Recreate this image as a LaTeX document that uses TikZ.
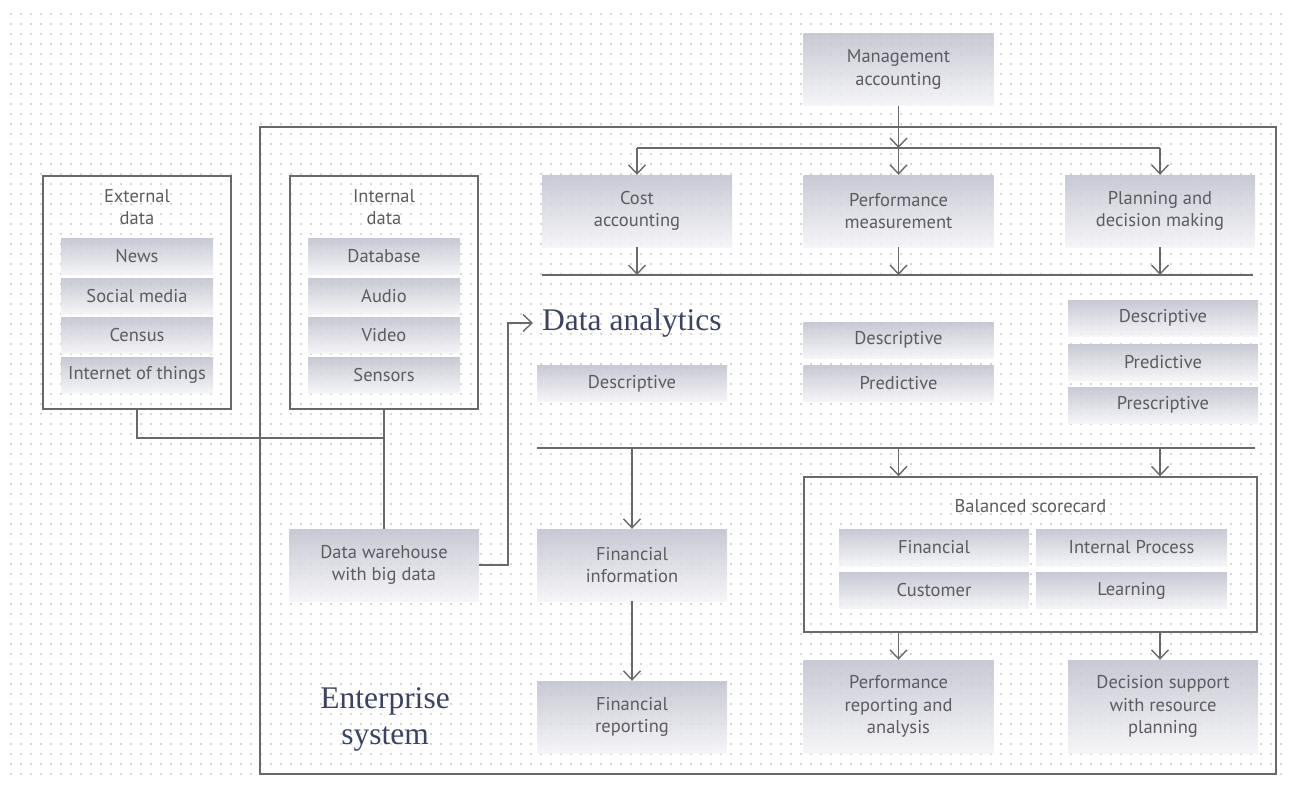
\documentclass[tikz,border=0pt]{standalone}
\usepackage{fontspec}
\setmainfont{PT Sans}
\newfontfamily\headfont{Liberation Serif}
\usetikzlibrary{arrows.meta}
\definecolor{linegray}{RGB}{105,105,108}
\definecolor{txtgray}{RGB}{92,92,96}
\definecolor{headblue}{RGB}{59,66,99}
\definecolor{boxtop}{RGB}{190,192,205}
\definecolor{boxbot}{RGB}{244,244,247}
\definecolor{dotgray}{RGB}{214,214,216}

\begin{document}
\begin{tikzpicture}[x=1pt, y=-1pt,
  every node/.style={font=\fontsize{18.5}{22.5}\selectfont, text=txtgray, align=center, inner sep=0pt},
  box/.style={top color=boxtop, bottom color=boxbot, fill opacity=0.85, text opacity=1,
    minimum width=190pt, minimum height=72pt},
  slim/.style={box, minimum height=36pt},
  frame/.style={draw=linegray, line width=1.4pt},
  conn/.style={draw=linegray, line width=1.4pt},
  arr/.style={conn, -{Straight Barb[length=9pt, width=17pt]}},
  head/.style={font=\headfont\fontsize{31.5}{36}\selectfont, text=headblue},
  dots/.style={draw=dotgray, line width=2pt, dash pattern=on 2pt off 8pt}]
\useasboundingbox (0,0) rectangle (1291,785);
\foreach \y in {14,24,...,774}
  \draw[dots] (10,\y) -- (1285,\y);

% frames
\node[frame, minimum width=1016pt, minimum height=647pt] (ent) at (768,450.5) {};
\node[frame, minimum width=188pt, minimum height=233pt] (ext) at (137,292.5) {};
\node[frame, minimum width=188pt, minimum height=233pt] (int) at (384,292.5) {};
\node[frame, minimum width=453pt, minimum height=155pt] (bsc) at (1030.5,554.5) {};

% data sources
\node at (137,207) {External\\data};
\node[slim, minimum width=152pt] (news) at (137,256.5) {News};
\node[slim, minimum width=152pt] (social) at (137,296) {Social media};
\node[slim, minimum width=152pt] (census) at (137,335.5) {Census};
\node[slim, minimum width=152pt] (iot) at (137,375) {Internet of things};
\node at (384,207) {Internal\\data};
\node[slim, minimum width=152pt] (database) at (384,256.5) {Database};
\node[slim, minimum width=152pt] (audio) at (384,296) {Audio};
\node[slim, minimum width=152pt] (video) at (384,335.5) {Video};
\node[slim, minimum width=152pt] (sensors) at (384,375) {Sensors};
\node[box] (dw) at (384,565) {Data warehouse\\with big data};

% management accounting
\node[box] (mgmt) at (898.5,69.5) {Management\\accounting};
\node[box] (cost) at (637,211) {Cost\\accounting};
\node[box] (perf) at (898.5,211) {Performance\\measurement};
\node[box] (plan) at (1160,211) {Planning and\\decision making};

% data analytics
\node[head, anchor=west] (da) at (533,323) {\hspace{9pt}Data analytics};
\node[slim] (desca) at (632,383.5) {Descriptive};
\node[slim] (descb) at (898.5,340) {Descriptive};
\node[slim] (predb) at (898.5,383.5) {Predictive};
\node[slim] (descc) at (1163,318) {Descriptive};
\node[slim] (predc) at (1163,362) {Predictive};
\node[slim] (presc) at (1163,405) {Prescriptive};

% outputs
\node[box] (fininfo) at (632,565) {Financial\\information};
\node[box] (finrep) at (632,717) {Financial\\reporting};
\node (bsctitle) at (1030.5,506) {Balanced scorecard};
\node[slim, minimum height=37pt] (fin) at (934,547.5) {Financial};
\node[slim, minimum height=37pt, minimum width=191pt] (intp) at (1131.5,547.5) {Internal Process};
\node[slim, minimum height=36pt] (cust) at (934,590.5) {Customer};
\node[slim, minimum height=36pt, minimum width=191pt] (learn) at (1131.5,590.5) {Learning};
\node[box, minimum height=93pt] (perfrep) at (898.5,706.5) {Performance\\reporting and\\analysis};
\node[box, minimum height=93pt] (decis) at (1163,706.5) {Decision support\\with resource\\planning};
\node[head] (es) at (385,719) {Enterprise\\system};

% connectors
\coordinate (jt) at (898.5,148);
\coordinate (jtl) at (637,148);
\coordinate (jtr) at (1160,148);
\coordinate (ml) at (542,275);
\coordinate (mr) at (1253,275);
\coordinate (bl) at (537,448);
\coordinate (br) at (1255,448);
\coordinate (jw) at (384,438);
\coordinate (jd) at (508,565);
\draw[conn] (jtl) -- (jtr);
\draw[arr] (mgmt) -- (jt);
\draw[arr] (jtl) -- (cost);
\draw[arr] (jt) -- (perf);
\draw[arr] (jtr) -- (plan);
\draw[conn] (ml) -- (mr);
\draw[arr] (cost) -- (cost |- ml);
\draw[arr] (perf) -- (perf |- ml);
\draw[arr] (plan) -- (plan |- ml);
\draw[conn] (bl) -- (br);
\draw[arr] (fininfo |- bl) -- (fininfo);
\draw[arr] (perfrep |- bl) -- (perfrep |- bsc.north);
\draw[arr] (plan |- bl) -- (plan |- bsc.north);
\draw[arr] (fininfo) -- (finrep);
\draw[arr] (perfrep |- bsc.south) -- (perfrep);
\draw[arr] (plan |- bsc.south) -- (plan |- decis.north);
\draw[conn] (ext) |- (jw);
\draw[conn] (int) -- (dw);
\draw[arr] (dw) -- (jd) |- (da.west);
\end{tikzpicture}
\end{document}
